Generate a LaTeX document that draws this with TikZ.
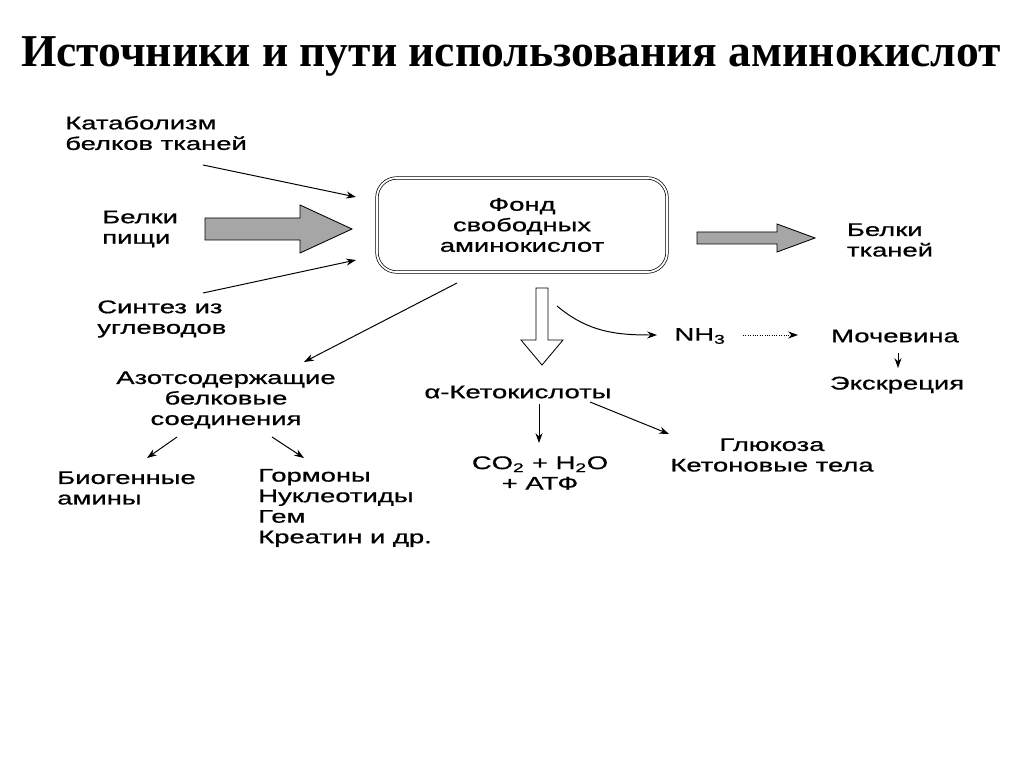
\documentclass[tikz,border=0pt]{standalone}
\usepackage{fontspec}
\setmainfont{Liberation Sans}
\newfontfamily\titlefont{Liberation Serif}
\newfontfamily\schemefont[FakeStretch=1.5,FakeBold=0.8]{Liberation Sans}
\usetikzlibrary{arrows.meta,calc,positioning}

\begin{document}
\begin{tikzpicture}[x=0.025cm,y=-0.025cm,>={Stealth[length=7pt,width=5pt]},
  txt/.style={inner sep=0pt,font=\schemefont\fontsize{13}{14.6}\selectfont},
  fondbox/.style={draw,double,double distance=1.3pt,line width=0.5pt,rounded corners=14pt,
    minimum width=7.25cm,minimum height=2.35cm,font=\schemefont\fontsize{13}{14.6}\selectfont,align=center},
  fatarrow/.style={draw,fill=black!35,line width=0.6pt},
  hollowarrow/.style={draw,fill=white,line width=0.6pt},
  link/.style={->,line width=0.7pt}]
\useasboundingbox (0,0) rectangle (1024,767);

% title
\node (title) at (511,57) {\titlefont\bfseries\fontsize{32.4}{38}\selectfont Источники и пути использования аминокислот};

% sources
\node[txt,align=left,anchor=west] (katab) at (65,133) {Катаболизм\\белков тканей};
\node[txt,align=left,anchor=west] (pishcha) at (102,229) {Белки\\пищи};
\node[txt,align=left,anchor=west] (sintez) at (97,319) {Синтез из\\углеводов};
\node[fondbox] (fond) at (522,225) {Фонд\\свободных\\аминокислот};
\node[txt,align=left] (tkan) at (890,240) {Белки\\тканей};

% products
\node[txt,align=center] (azot) at (226,400) {Азотсодержащие\\белковые\\соединения};
\node[txt,align=left,anchor=west] (amin) at (57,488) {Биогенные\\амины};
\node[txt,align=left,anchor=west] (gorm) at (258,508) {Гормоны\\Нуклеотиды\\Гем\\Креатин и др.};
\node[txt] (keto) at (518,392) {α-Кетокислоты};
\node[txt,align=center] (co2) at (540,473) {CO\textsubscript{2} + H\textsubscript{2}O\\+ АТФ};
\node[txt,align=center] (gluk) at (772,455) {Глюкоза\\Кетоновые тела};
\node[txt] (nh3) at (700,336) {NH\textsubscript{3}};
\node[txt] (moch) at (895,336) {Мочевина};
\node[txt] (ekskr) at (897,385) {Экскреция};

% ends of the thin arrows
\coordinate (katabout) at (203,165);
\coordinate (fondin1) at (356,197);
\coordinate (sintezout) at (203,293);
\coordinate (fondin2) at (356,260);
\coordinate (fondout) at (457,283);
\coordinate (azotin) at (304,362);
\coordinate (curvestart) at (557,306);
\coordinate (nh3in) at (657,335);
\coordinate (nh3out) at (743,335);
\coordinate (mochin) at (798,335);
\coordinate (mochout) at (898,353);
\coordinate (ekskrin) at (898,368);
\coordinate (azotout1) at (177,437);
\coordinate (aminin) at (147,458);
\coordinate (azotout2) at (272,437);
\coordinate (gormin) at (304,458);
\coordinate (ketoout1) at (539,404);
\coordinate (co2in) at (539,443);
\coordinate (ketoout2) at (590,402);
\coordinate (glukin) at (669,434);

% thin arrows
\draw[link] (katabout) -- (fondin1);
\draw[link] (sintezout) -- (fondin2);
\draw[link] (fondout) -- (azotin);
\draw[link] (curvestart) to[out=-40,in=180] (nh3in);
\draw[link,densely dotted] (nh3out) -- (mochin);
\draw[link] (mochout) -- (ekskrin);
\draw[link] (azotout1) -- (aminin);
\draw[link] (azotout2) -- (gormin);
\draw[link] (ketoout1) -- (co2in);
\draw[link] (ketoout2) -- (glukin);

% fat arrows
\draw[fatarrow] (205,218) -- (300,218) -- (300,205) -- (352,229) -- (300,253) -- (300,240) -- (205,240) -- cycle;
\draw[fatarrow] (697,232) -- (777,232) -- (777,224) -- (815,238) -- (777,252) -- (777,244) -- (697,244) -- cycle;
\draw[hollowarrow] (536,288) -- (548,288) -- (548,340) -- (563,340) -- (542,365) -- (521,340) -- (536,340) -- cycle;
\end{tikzpicture}
\end{document}
